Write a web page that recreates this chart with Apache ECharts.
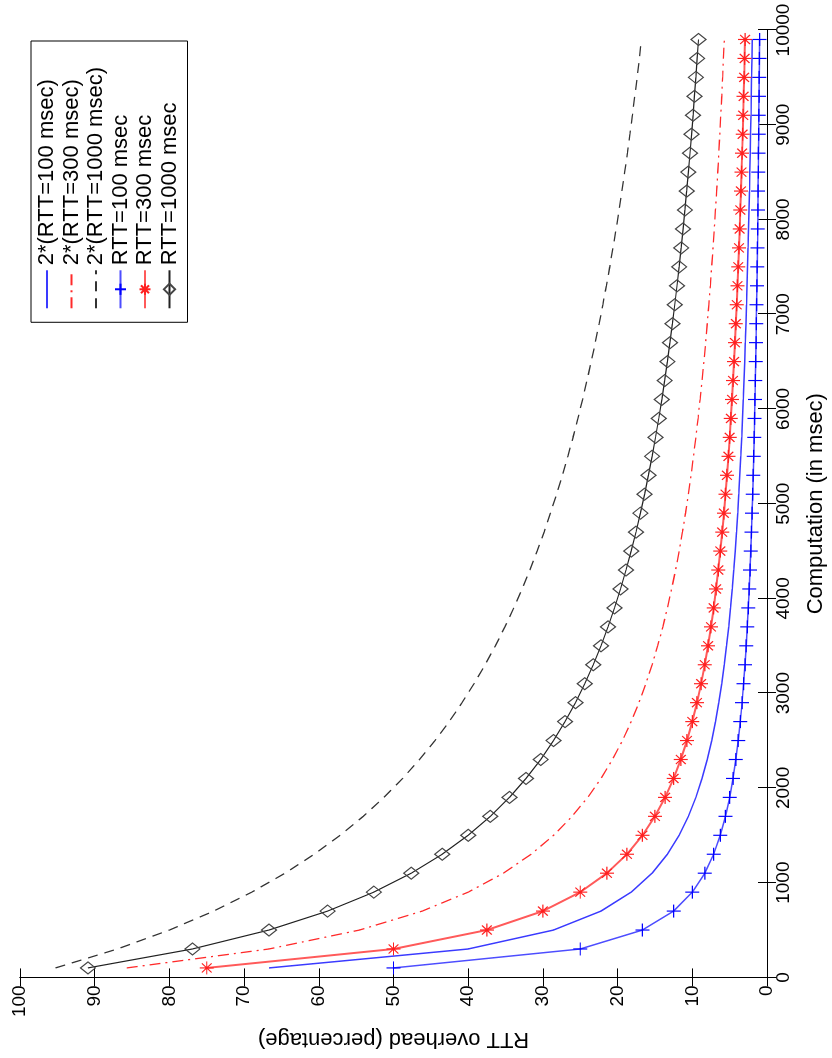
<!DOCTYPE html>
<html>
<head>
<meta charset="utf-8">
<script src="https://cdn.jsdelivr.net/npm/echarts@6/dist/echarts.min.js"></script>
<style>
  html, body { margin: 0; padding: 0; background: #fff; overflow: hidden; width: 832px; height: 1058px; }
  /* the figure is drawn landscape, then turned a quarter turn to the left */
  #chart {
    position: absolute; left: 0; top: 0;
    width: 1058px; height: 832px;
    transform-origin: 0 0;
    transform: translate(0, 1058px) rotate(-90deg);
  }
</style>
</head>
<body>
<div id="chart"></div>
<script>
// computation time (msec) where each curve was sampled
const computation = [100, 300, 500, 700, 900, 1100, 1300, 1500, 1700, 1900,
  2100, 2300, 2500, 2700, 2900, 3100, 3300, 3500, 3700, 3900,
  4100, 4300, 4500, 4700, 4900, 5100, 5300, 5500, 5700, 5900,
  6100, 6300, 6500, 6700, 6900, 7100, 7300, 7500, 7700, 7900,
  8100, 8300, 8500, 8700, 8900, 9100, 9300, 9500, 9700, 9900];

// RTT overhead (percentage)
const twoRtt100 = [66.67, 40, 28.57, 22.22, 18.18, 15.38, 13.33, 11.76, 10.53, 9.52,
  8.70, 8.00, 7.41, 6.90, 6.45, 6.06, 5.71, 5.41, 5.13, 4.88,
  4.65, 4.44, 4.26, 4.08, 3.92, 3.77, 3.64, 3.51, 3.39, 3.28,
  3.17, 3.08, 2.99, 2.90, 2.82, 2.74, 2.67, 2.60, 2.53, 2.47,
  2.41, 2.35, 2.30, 2.25, 2.20, 2.15, 2.11, 2.06, 2.02, 1.98];
const twoRtt300 = [85.71, 66.67, 54.55, 46.15, 40, 35.29, 31.58, 28.57, 26.09, 24.00,
  22.22, 20.69, 19.35, 18.18, 17.14, 16.22, 15.38, 14.63, 13.95, 13.33,
  12.77, 12.24, 11.76, 11.32, 10.91, 10.53, 10.17, 9.84, 9.52, 9.23,
  8.96, 8.70, 8.45, 8.22, 8.00, 7.79, 7.59, 7.41, 7.23, 7.06,
  6.90, 6.74, 6.59, 6.45, 6.32, 6.19, 6.06, 5.94, 5.83, 5.71];
const twoRtt1000 = [95.24, 86.96, 80.00, 74.07, 68.97, 64.52, 60.61, 57.14, 54.05, 51.28,
  48.78, 46.51, 44.44, 42.55, 40.82, 39.22, 37.74, 36.36, 35.09, 33.90,
  32.79, 31.75, 30.77, 29.85, 28.99, 28.17, 27.40, 26.67, 25.97, 25.32,
  24.69, 24.10, 23.53, 22.99, 22.47, 21.98, 21.51, 21.05, 20.62, 20.20,
  19.80, 19.42, 19.05, 18.69, 18.35, 18.02, 17.70, 17.39, 17.09, 16.81];
const rtt100 = [50, 25, 16.67, 12.5, 10, 8.33, 7.14, 6.25, 5.56, 5.00,
  4.55, 4.17, 3.85, 3.57, 3.33, 3.13, 2.94, 2.78, 2.63, 2.50,
  2.38, 2.27, 2.17, 2.08, 2.00, 1.92, 1.85, 1.79, 1.72, 1.67,
  1.61, 1.56, 1.52, 1.47, 1.43, 1.39, 1.35, 1.32, 1.28, 1.25,
  1.22, 1.19, 1.16, 1.14, 1.11, 1.09, 1.06, 1.04, 1.02, 1.00];
const rtt300 = [75, 50, 37.5, 30, 25, 21.43, 18.75, 16.67, 15.00, 13.64,
  12.50, 11.54, 10.71, 10.00, 9.38, 8.82, 8.33, 7.89, 7.50, 7.14,
  6.82, 6.52, 6.25, 6.00, 5.77, 5.56, 5.36, 5.17, 5.00, 4.84,
  4.69, 4.55, 4.41, 4.29, 4.17, 4.05, 3.95, 3.85, 3.75, 3.66,
  3.57, 3.49, 3.41, 3.33, 3.26, 3.19, 3.13, 3.06, 3.00, 2.94];
const rtt1000 = [90.91, 76.92, 66.67, 58.82, 52.63, 47.62, 43.48, 40.00, 37.04, 34.48,
  32.26, 30.30, 28.57, 27.03, 25.64, 24.39, 23.26, 22.22, 21.28, 20.41,
  19.61, 18.87, 18.18, 17.54, 16.95, 16.39, 15.87, 15.38, 14.93, 14.49,
  14.08, 13.70, 13.33, 12.99, 12.66, 12.35, 12.05, 11.76, 11.49, 11.24,
  10.99, 10.75, 10.53, 10.31, 10.10, 9.90, 9.71, 9.52, 9.35, 9.17];

const seriesNames = ['2*(RTT=100 msec)', '2*(RTT=300 msec)', '2*(RTT=1000 msec)',
  'RTT=100 msec', 'RTT=300 msec', 'RTT=1000 msec'];

const FONT = 'Liberation Sans, Arial, Helvetica, sans-serif';

function pairs(vals) {
  return computation.map((c, i) => [c, vals[i]]);
}

const plusPath = 'path://M0,-1L0,1M-1,0L1,0';
const starPath = 'path://M0,-1L0,1M-1,0L1,0M-0.7,-0.7L0.7,0.7M-0.7,0.7L0.7,-0.7';
// plain line series: hide the dot echarts puts in the legend icon
const noMarker = { color: 'rgba(0,0,0,0)', borderWidth: 0 };

const chart = echarts.init(document.getElementById('chart'), null, { width: 1058, height: 832 });

// MATLAB-style boxed axes: ticks point inwards on all four sides
const tickStyle = { show: true, inside: true, length: 9, lineStyle: { color: '#000', width: 1 } };
const lineStyle = { show: true, lineStyle: { color: '#000', width: 1 } };
const plainNum = v => String(v);

const option = {
  backgroundColor: '#fff',
  animation: false,
  grid: { left: 78, right: 30, top: 20, bottom: 63 },
  legend: {
    data: seriesNames,
    orient: 'vertical',
    right: 41,
    top: 31,
    padding: [5, 26, 7, 13],
    itemWidth: 38,
    itemHeight: 14,
    itemGap: 2.5,
    borderColor: '#000',
    borderWidth: 1,
    borderRadius: 0,
    backgroundColor: '#fff',
    textStyle: { fontFamily: FONT, fontSize: 22, color: '#000' }
  },
  xAxis: [
    {
      type: 'value', min: 0, max: 10000, interval: 1000, position: 'bottom',
      name: 'Computation (in msec)', nameLocation: 'middle', nameGap: 38,
      nameTextStyle: { fontFamily: FONT, fontSize: 22, color: '#000' },
      axisLine: lineStyle, axisTick: tickStyle,
      axisLabel: { fontFamily: FONT, fontSize: 19, color: '#000', margin: 7, formatter: plainNum },
      splitLine: { show: false }
    },
    {
      type: 'value', min: 0, max: 10000, interval: 1000, position: 'top',
      axisLine: lineStyle, axisTick: tickStyle,
      axisLabel: { show: false }, splitLine: { show: false }
    }
  ],
  yAxis: [
    {
      type: 'value', min: 0, max: 100, interval: 10, position: 'left',
      name: 'RTT overhead (percentage)', nameLocation: 'middle', nameGap: 50,
      nameTextStyle: { fontFamily: FONT, fontSize: 22, color: '#000' },
      axisLine: lineStyle, axisTick: tickStyle,
      axisLabel: { fontFamily: FONT, fontSize: 19, color: '#000', margin: 8, formatter: plainNum },
      splitLine: { show: false }
    },
    {
      type: 'value', min: 0, max: 100, interval: 10, position: 'right',
      axisLine: lineStyle, axisTick: tickStyle,
      axisLabel: { show: false }, splitLine: { show: false }
    }
  ],
  series: [
    {
      name: seriesNames[0], type: 'line', data: pairs(twoRtt100),
      symbol: 'none', itemStyle: noMarker,
      lineStyle: { color: '#3a3aff', width: 1.5, type: 'solid' }
    },
    {
      name: seriesNames[1], type: 'line', data: pairs(twoRtt300),
      symbol: 'none', itemStyle: noMarker,
      lineStyle: { color: '#ff2a2a', width: 1.3, type: [11, 5, 2, 5] }
    },
    {
      name: seriesNames[2], type: 'line', data: pairs(twoRtt1000),
      symbol: 'none', itemStyle: noMarker,
      lineStyle: { color: '#333', width: 1.3, type: [10, 7] }
    },
    {
      name: seriesNames[3], type: 'line', data: pairs(rtt100),
      symbol: plusPath, symbolSize: [13, 14], showAllSymbol: true,
      itemStyle: { color: '#0000ff', borderColor: '#0000ff', borderWidth: 1.2 },
      lineStyle: { color: '#4d4dff', width: 1.5 }
    },
    {
      name: seriesNames[4], type: 'line', data: pairs(rtt300),
      symbol: starPath, symbolSize: [13, 14], showAllSymbol: true,
      itemStyle: { color: '#ff0000', borderColor: '#ff2020', borderWidth: 1.2 },
      lineStyle: { color: '#ff5a5a', width: 2 }
    },
    {
      name: seriesNames[5], type: 'line', data: pairs(rtt1000),
      symbol: 'diamond', symbolSize: [12, 15], showAllSymbol: true,
      itemStyle: { color: 'rgba(255,255,255,0)', borderColor: '#444', borderWidth: 1.2 },
      lineStyle: { color: '#222', width: 1.2 }
    }
  ]
};

chart.setOption(option);
</script>
</body>
</html>
